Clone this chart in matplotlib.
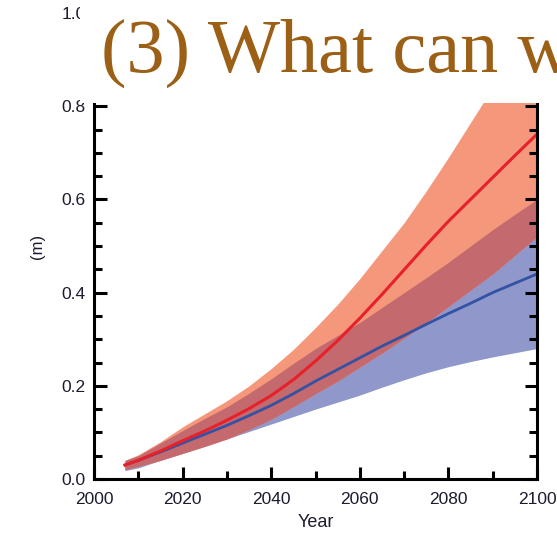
import numpy as np
import matplotlib.pyplot as plt
from matplotlib.ticker import MultipleLocator
from matplotlib.patches import Rectangle

years = [2007, 2010, 2015, 2020, 2025, 2030, 2035, 2040, 2045, 2050,
         2055, 2060, 2065, 2070, 2075, 2080, 2085, 2090, 2095, 2100]

# high scenario (red)
red_mid = [0.03, 0.04, 0.06, 0.082, 0.103, 0.126, 0.151, 0.179, 0.213, 0.253,
           0.297, 0.345, 0.396, 0.449, 0.502, 0.553, 0.60, 0.647, 0.694, 0.74]
red_lo = [0.02, 0.027, 0.04, 0.055, 0.07, 0.086, 0.106, 0.128, 0.155, 0.183,
          0.21, 0.24, 0.27, 0.302, 0.335, 0.37, 0.405, 0.44, 0.48, 0.52]
red_hi = [0.04, 0.052, 0.08, 0.112, 0.14, 0.168, 0.2, 0.237, 0.278, 0.325,
          0.375, 0.43, 0.49, 0.55, 0.618, 0.69, 0.765, 0.84, 0.92, 1.0]

# low scenario (blue)
blue_mid = [0.03, 0.04, 0.058, 0.077, 0.096, 0.115, 0.136, 0.158, 0.183, 0.21,
            0.235, 0.26, 0.285, 0.308, 0.332, 0.355, 0.377, 0.40, 0.42, 0.44]
blue_lo = [0.018, 0.024, 0.04, 0.055, 0.07, 0.086, 0.102, 0.118, 0.134, 0.15,
           0.165, 0.18, 0.197, 0.213, 0.228, 0.241, 0.252, 0.262, 0.271, 0.28]
blue_hi = [0.04, 0.05, 0.077, 0.104, 0.13, 0.155, 0.184, 0.215, 0.248, 0.28,
           0.308, 0.336, 0.368, 0.40, 0.432, 0.465, 0.50, 0.535, 0.568, 0.60]

title_text = "(3) What can w"

c_red_band = '#F4977B'
c_blue_band = '#8F97CB'
c_overlap = '#C4696D'
c_red = '#E8202A'
c_blue = '#3352A3'
c_text = '#1c1c30'

plt.rcParams['font.family'] = ['Liberation Sans', 'DejaVu Sans']

fig = plt.figure(figsize=(5.57, 5.34), dpi=100)
ax = fig.add_axes([94/557, 55/534, 443/557, 466/534])

yr = np.array(years)
ax.fill_between(yr, blue_lo, blue_hi, color=c_blue_band, lw=0)
ax.fill_between(yr, red_lo, red_hi, color=c_red_band, lw=0)
ov_lo = np.maximum(red_lo, blue_lo)
ov_hi = np.minimum(red_hi, blue_hi)
ax.fill_between(yr, ov_lo, ov_hi, where=ov_hi > ov_lo, color=c_overlap, lw=0)

ax.plot(yr, blue_mid, color=c_blue, lw=2)
ax.plot(yr, red_mid, color=c_red, lw=2.2)

ax.set_xlim(2000, 2100)
ax.set_ylim(0, 1.0)
ax.xaxis.set_major_locator(MultipleLocator(20))
ax.xaxis.set_minor_locator(MultipleLocator(10))
ax.yaxis.set_major_locator(MultipleLocator(0.2))
ax.yaxis.set_minor_locator(MultipleLocator(0.05))
ax.yaxis.set_major_formatter(lambda v, p: f'{v:.1f}')

for s in ax.spines.values():
    s.set_linewidth(2.2)
ax.tick_params(which='both', direction='in', right=True, top=True,
               width=2.2, colors='black', labelcolor=c_text, labelsize=12.5)
ax.tick_params(which='major', length=9)
ax.tick_params(which='minor', length=5.5)
ax.tick_params(axis='x', which='both', pad=9.5)
ax.tick_params(axis='y', which='both', pad=6)

ax.set_xlabel('Year', fontsize=13, color=c_text, labelpad=5)
ax.set_ylabel('(m)', fontsize=12, color=c_text, labelpad=12)

# white title box sitting over the top of the plot
fig.patches.append(Rectangle((80/557, 431/534), 1, 0.3, transform=fig.transFigure,
                             facecolor='white', edgecolor='none', zorder=5))
fig.text(101/557, 462/534, title_text, fontsize=55, color='#9C5F16',
         family=['Liberation Serif', 'DejaVu Serif'], ha='left', va='baseline', zorder=6)

fig.savefig('out.png', dpi=100)
